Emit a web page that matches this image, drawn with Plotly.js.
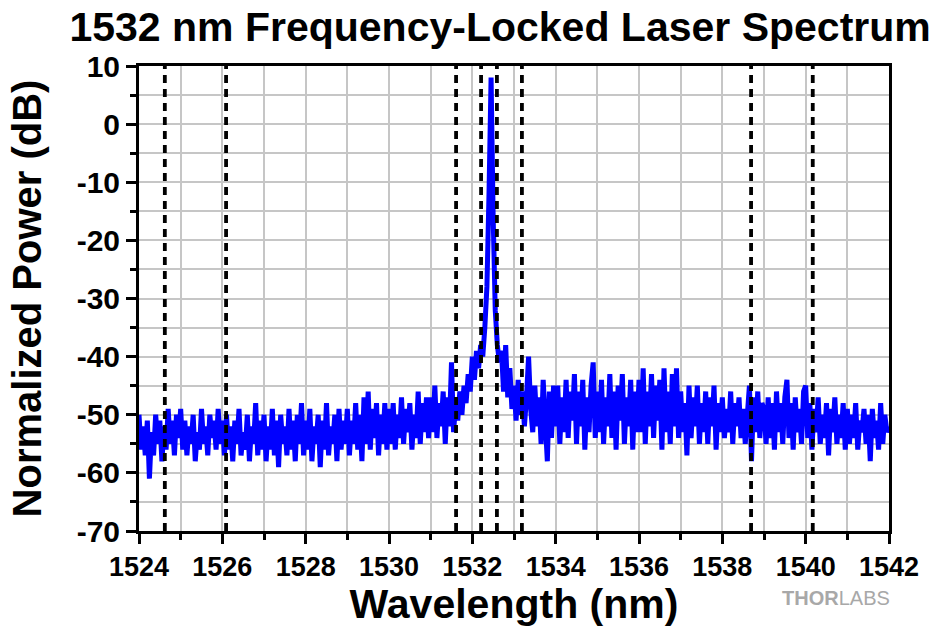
<!DOCTYPE html>
<html>
<head>
<meta charset="utf-8">
<script src="https://cdn.plot.ly/plotly-3.0.1.min.js"></script>
<style>html,body{margin:0;padding:0;background:#fff;}#chart{width:933px;height:627px;}</style>
</head>
<body>
<div id="chart"></div>
<script>
// Wavelength sampling of the spectrum (nm)
const wlStart = 1524.0;
const wlStep = 0.05;

// Normalized power (dB), one row per nm, 20 samples per row
const powerDb = [
  // 1524
  -50, -56, -52, -57, -51, -61, -53, -57, -50, -55, -51, -58, -52, -56, -49, -55, -51, -57, -50, -54,
  // 1525
  -49, -56, -51, -57, -52, -55, -50, -58, -53, -56, -49, -55, -52, -57, -50, -54, -51, -56, -49, -55,
  // 1526
  -51, -57, -50, -56, -52, -58, -51, -55, -49, -57, -53, -56, -50, -58, -52, -55, -48, -57, -51, -56,
  // 1527
  -50, -58, -52, -56, -49, -57, -51, -59, -50, -55, -52, -57, -49, -56, -51, -58, -50, -55, -48, -57,
  // 1528
  -51, -56, -49, -58, -52, -55, -50, -59, -51, -56, -48, -57, -52, -55, -50, -58, -49, -56, -51, -55,
  // 1529
  -49, -57, -51, -55, -48, -56, -50, -58, -47, -55, -46, -56, -49, -54, -48, -57, -50, -55, -48, -56,
  // 1530
  -49, -55, -48, -56, -50, -54, -47, -55, -49, -53, -48, -56, -50, -54, -46, -55, -48, -53, -47, -54,
  // 1531
  -47, -53, -45, -54, -48, -52, -46, -55, -47, -52, -41, -53, -48, -51, -46, -50, -45, -48, -43, -46,
  // 1532
  -40, -44, -39, -42, -38, -40, -35, -28, -12, 8, -16, -32, -38, -41, -39, -46, -38, -47, -42, -49,
  // 1533
  -45, -51, -44, -50, -46, -52, -47, -40, -49, -53, -45, -52, -47, -55, -44, -53, -58, -46, -54, -45,
  // 1534
  -52, -45, -55, -47, -53, -44, -54, -46, -51, -43, -55, -46, -52, -44, -56, -47, -53, -45, -41, -54,
  // 1535
  -46, -53, -44, -55, -47, -52, -43, -54, -46, -56, -45, -51, -43, -55, -47, -52, -44, -56, -46, -53,
  // 1536
  -44, -53, -42, -55, -46, -52, -43, -54, -45, -51, -44, -56, -42, -53, -46, -55, -43, -52, -42, -54,
  // 1537
  -46, -53, -48, -57, -45, -54, -47, -52, -45, -55, -48, -53, -46, -55, -47, -52, -45, -56, -48, -53,
  // 1538
  -47, -54, -49, -53, -46, -55, -48, -52, -47, -54, -49, -55, -48, -45, -58, -47, -53, -46, -54, -48,
  // 1539
  -49, -55, -47, -54, -48, -56, -46, -53, -48, -55, -47, -44, -54, -48, -56, -47, -53, -49, -55, -46,
  // 1540
  -45, -54, -48, -56, -49, -53, -47, -55, -50, -54, -48, -57, -49, -53, -47, -55, -50, -54, -48, -56,
  // 1541
  -49, -55, -50, -54, -48, -56, -51, -53, -49, -55, -50, -58, -49, -54, -51, -56, -48, -55, -50, -53,
  // 1542
  -52
];

// Wavelengths of the dashed vertical marker lines (nm)
const markerWl = [1524.62, 1526.09, 1531.61, 1532.21, 1532.59, 1533.19, 1538.69, 1540.17];

// Axis tick values
const xTicks = [1524, 1526, 1528, 1530, 1532, 1534, 1536, 1538, 1540, 1542];
const yTicks = [10, 0, -10, -20, -30, -40, -50, -60, -70];

const wavelength = powerDb.map((_, i) => +(wlStart + i * wlStep).toFixed(3));

const FONT = 'Liberation Sans, Arial, Helvetica, sans-serif';
const gridC = '#c6c6c6';

const trace = {
  x: wavelength,
  y: powerDb,
  type: 'scatter',
  mode: 'lines',
  line: {color: '#0000ff', width: 5},
  hoverinfo: 'x+y'
};

const shapes = markerWl.map(w => ({
  type: 'line', xref: 'x', yref: 'paper',
  x0: w, x1: w, y0: 0, y1: 1,
  line: {color: '#000', width: 3.8, dash: '8px,6px'},
  layer: 'above'
}));

const layout = {
  width: 933, height: 627,
  margin: {l: 139, r: 44, t: 66, b: 96},
  paper_bgcolor: '#fff', plot_bgcolor: '#fff',
  showlegend: false,
  title: {
    text: '<b>1532 nm Frequency-Locked Laser Spectrum</b>',
    font: {family: FONT, size: 41, color: '#000'},
    x: 0.536, xref: 'container', xanchor: 'center',
    y: 0.957, yref: 'container', yanchor: 'middle'
  },
  xaxis: {
    range: [1524, 1542],
    tickvals: xTicks,
    ticktext: xTicks.map(v => '<b>' + v + '</b>'),
    tickfont: {family: FONT, size: 27, color: '#000'},
    ticks: 'outside', ticklen: 10, tickwidth: 3, tickcolor: '#000',
    showline: true, linewidth: 3, linecolor: '#000', mirror: true,
    showgrid: true, gridcolor: gridC, gridwidth: 2,
    zeroline: false,
    minor: {dtick: 1, ticks: 'outside', ticklen: 6, tickwidth: 3, tickcolor: '#000', showgrid: true, gridcolor: gridC, gridwidth: 2},
    title: {text: '<b>Wavelength (nm)</b>', font: {family: FONT, size: 41, color: '#000'}, standoff: 8}
  },
  yaxis: {
    range: [-70, 10],
    tickvals: yTicks,
    ticktext: yTicks.map(v => '<b>' + v + '</b>'),
    tickfont: {family: FONT, size: 30, color: '#000'},
    ticks: 'outside', ticklen: 10, tickwidth: 3, tickcolor: '#000',
    showline: true, linewidth: 3, linecolor: '#000', mirror: true,
    showgrid: true, gridcolor: gridC, gridwidth: 2,
    zeroline: false,
    minor: {dtick: 5, ticks: 'outside', ticklen: 6, tickwidth: 3, tickcolor: '#000', showgrid: true, gridcolor: gridC, gridwidth: 2},
    title: {text: '<b>Normalized Power (dB)</b>', font: {family: FONT, size: 40, color: '#000'}, standoff: 23}
  },
  shapes: shapes,
  annotations: [{
    text: '<b>THOR</b>LABS',
    xref: 'paper', yref: 'paper', x: 0.929, y: -0.144,
    xanchor: 'center', yanchor: 'middle', showarrow: false,
    font: {family: FONT, size: 20, color: '#a8a8a8'}
  }]
};

Plotly.newPlot('chart', [trace], layout, {displayModeBar: false, staticPlot: true});
</script>
</body>
</html>
